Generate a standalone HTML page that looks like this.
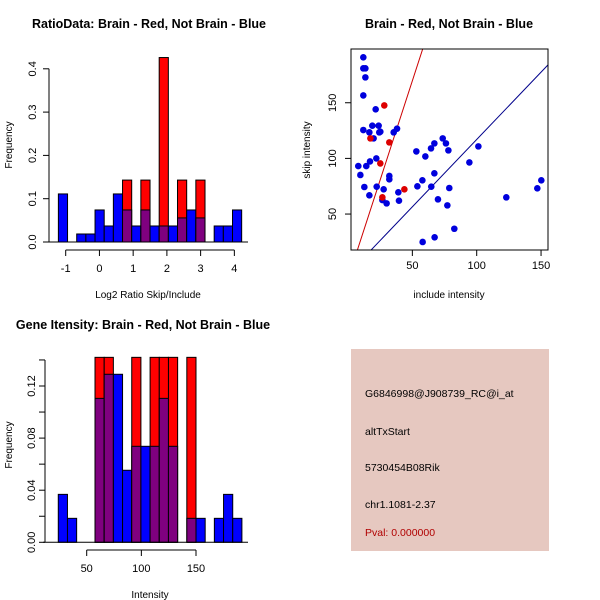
<!DOCTYPE html>
<html><head><meta charset="utf-8"><style>
body{margin:0;background:#fff}
svg{display:block;font-family:"Liberation Sans",sans-serif}
</style></head><body>
<svg id="c" width="600" height="600" viewBox="0 0 600 600"></svg>
<script>
// ---- Panel 1 data: log2 ratio histogram ----
const ratioBinStart = -1.217;
const ratioBinWidth = 0.2717;
const ratioBlue = [0.111,0,0.0185,0.0185,0.074,0.037,0.111,0.074,0.037,0.074,0.037,0.037,0.037,0.0556,0.074,0.0556,0,0.037,0.037,0.074];
const ratioRed  = [0,0,0,0,0,0,0,0.143,0,0.143,0,0.426,0,0.143,0,0.143,0,0,0,0];
const ratioXTicks = [-1,0,1,2,3,4];
const ratioYTicks = [0,0.1,0.2,0.3,0.4];
const ratioYLabels = ["0.0","0.1","0.2","0.3","0.4"];
// ---- Panel 2 data: scatter ----
const blueX = [11.9,11.9,13.5,13.5,11.9,11.9,16.6,18.9,21.5,23.8,24.3,25.1,19.9,17.1,14.2,22.0,8.0,9.6,12.7,22.3,16.6,27.7,26.7,30.0,32.1,32.1,35.5,38.1,39.1,39.6,53.1,53.9,57.8,60.1,64.5,67.1,64.7,67.1,69.9,73.6,76.1,78.0,78.7,77.2,94.3,101.3,82.6,58.0,67.3,123.0,147.1,150.2];
const blueY = [190.8,180.9,180.9,172.8,156.6,125.5,123.4,129.4,144.1,129.4,123.4,124.0,118.0,97.3,93.1,100.0,93.1,85.1,74.3,74.6,66.8,72.2,62.6,59.6,84.2,81.2,123.4,126.7,69.5,62.0,106.3,74.9,80.3,101.8,109.0,113.5,74.6,86.6,63.2,118.0,113.5,107.2,73.4,57.8,96.4,110.8,36.8,24.9,29.1,65.0,73.1,80.3];
const redX = [28.2,17.4,32.1,25.1,43.8,26.7];
const redY = [147.6,118.0,114.4,95.5,72.2,65.0];
const redLine = [-8.3,3.56];   // intercept, slope
const blueLine = [-4.0,1.21];
const scatXTicks = [50,100,150];
const scatYTicks = [50,100,150];
// ---- Panel 3 data: intensity histogram ----
const intBinStart = 24;
const intBinWidth = 8.4;
const intBlue = [0.0368,0.0184,0,0,0.1105,0.129,0.129,0.0553,0.0737,0.0737,0.0737,0.1105,0.0737,0,0.0184,0.0184,0,0.0184,0.0368,0.0184];
const intRed  = [0,0,0,0,0.142,0.142,0,0,0.142,0,0.142,0.142,0.142,0,0.142,0,0,0,0,0];
const intXTicks = [50,100,150];
const intYTicks = [0,0.02,0.04,0.06,0.08,0.10,0.12,0.14];
const intYLabels = ["0.00","","0.04","","0.08","","0.12",""];

const svg = document.getElementById('c');
const NS = 'http://www.w3.org/2000/svg';
function mk(tag, attrs, parent){
  const e = document.createElementNS(NS, tag);
  for (const k in attrs) e.setAttribute(k, attrs[k]);
  (parent||svg).appendChild(e);
  return e;
}
function txt(s, x, y, opts, parent){
  const e = mk('text', Object.assign({x:x,y:y,'font-size':11,'text-anchor':'middle',fill:'#000'}, opts||{}), parent);
  e.textContent = s;
  return e;
}
function rtxt(s, bx, cy, parent){
  return txt(s, bx, cy, {transform:`rotate(-90 ${bx} ${cy})`}, parent);
}

function histogram(name, start, width, blue, red, xs, ys, xTicks, yTicks, yLabels, xAxisY, yAxisX, yMin, yMax, baseL, baseR, labelX){
  const g = mk('g', {});
  
  
  for (let i=0;i<blue.length;i++){
    const a = start + i*width, b = a + width;
    const xa = xs(a), xb = xs(b);
    const bh = blue[i], rh = red[i];
    if (rh > 0){
      const r = mk('rect', {x:xa, y:ys(rh), width:xb-xa, height:ys(0)-ys(rh), fill:'#ff0000', stroke:'#000', 'stroke-width':1}, g);
      
      
    }
    if (bh > 0){
      const both = rh > 0;
      const r = mk('rect', {x:xa, y:ys(bh), width:xb-xa, height:ys(0)-ys(bh), fill: both ? '#7f007f' : '#0000ff', stroke:'#000', 'stroke-width':1}, g);
      
      
    }
  }
  mk('line', {x1:baseL, x2:baseR, y1:ys(0), y2:ys(0), stroke:'#000'}, g);
  const ya = mk('g', {}, g);
  
  
  mk('line', {x1:yAxisX, x2:yAxisX, y1:ys(yMin), y2:ys(yMax), stroke:'#000'}, ya);
  yTicks.forEach((t,i)=>{
    mk('line', {x1:yAxisX-6, x2:yAxisX, y1:ys(t), y2:ys(t), stroke:'#000'}, ya);
    if (yLabels[i]) rtxt(yLabels[i], labelX, ys(t), ya);
  });
  const xa = mk('g', {}, g);
  
  
  mk('line', {x1:xs(xTicks[0]), x2:xs(xTicks[xTicks.length-1]), y1:xAxisY, y2:xAxisY, stroke:'#000'}, xa);
  xTicks.forEach(t=>{
    mk('line', {x1:xs(t), x2:xs(t), y1:xAxisY, y2:xAxisY+6, stroke:'#000'}, xa);
    txt(String(t), xs(t), xAxisY+22, {}, xa);
  });
  return g;
}

// Panel 1
(function(){
  const xs = v => 65.7 + (v+1)*33.73;
  const ys = v => 242 - v*433;
  histogram('ratio-histogram', ratioBinStart, ratioBinWidth, ratioBlue, ratioRed, xs, ys, ratioXTicks, ratioYTicks, ratioYLabels, 250, 49, 0, 0.4, 43, 248, 36);
  const t = txt('RatioData: Brain - Red, Not Brain - Blue', 149, 28, {'font-weight':'bold','font-size':12.5});
   
  const xl = txt('Log2 Ratio Skip/Include', 148, 298, {'font-size':10});
   
  const yl = txt('Frequency', 12, 145, {'font-size':10, transform:'rotate(-90 12 145)'});
   
})();

// Panel 2
(function(){
  const xs = v => 348 + v*1.287;
  const ys = v => 269.7 - v*1.113;
  const L=351, R=548, T=49, B=250;
  const g = mk('g', {});
   
  const defs = mk('defs', {}, g);
  const cp = mk('clipPath', {id:'sc'}, defs);
  mk('rect', {x:L, y:T, width:R-L, height:B-T}, cp);
  const lg = mk('g', {'clip-path':'url(#sc)'}, g);
  [[redLine,'#cc0000','red-fit-line'],[blueLine,'#00008b','blue-fit-line']].forEach(([p,c,n])=>{
    const x1=-20, x2=200;
    const l = mk('line', {x1:xs(x1), y1:ys(p[0]+p[1]*x1), x2:xs(x2), y2:ys(p[0]+p[1]*x2), stroke:c, 'stroke-width':1}, lg);
     
  });
  blueX.forEach((x,i)=>{
    const c = mk('circle', {cx:xs(x), cy:ys(blueY[i]), r:3.3, fill:'#0000dd'}, lg);
     
  });
  redX.forEach((x,i)=>{
    const c = mk('circle', {cx:xs(x), cy:ys(redY[i]), r:3.3, fill:'#dd0000'}, lg);
     
  });
  mk('rect', {x:L, y:T, width:R-L, height:B-T, fill:'none', stroke:'#000'}, g);
  scatXTicks.forEach(t=>{
    mk('line', {x1:xs(t), x2:xs(t), y1:B, y2:B+6, stroke:'#000'}, g);
    txt(String(t), xs(t), B+19, {}, g);
  });
  scatYTicks.forEach(t=>{
    mk('line', {x1:L-6, x2:L, y1:ys(t), y2:ys(t), stroke:'#000'}, g);
    rtxt(String(t), L-15, ys(t), g);
  });
  const t = txt('Brain - Red, Not Brain - Blue', 449, 28, {'font-weight':'bold','font-size':12.5});
   
  const xl = txt('include intensity', 449, 298, {'font-size':10});
   
  const yl = txt('skip intensity', 310, 150, {'font-size':10, transform:'rotate(-90 310 150)'});
   
})();

// Panel 3
(function(){
  const xs = v => 86.7 + (v-50)*1.093;
  const ys = v => 542.3 - v*1302.5;
  histogram('intensity-histogram', intBinStart, intBinWidth, intBlue, intRed, xs, ys, intXTicks, intYTicks, intYLabels, 550, 45, 0, 0.14, 43, 248, 35);
  const t = txt('Gene Itensity: Brain - Red, Not Brain - Blue', 143, 329, {'font-weight':'bold','font-size':12.5});
   
  const xl = txt('Intensity', 150, 598, {'font-size':10});
   
  const yl = txt('Frequency', 12, 445, {'font-size':10, transform:'rotate(-90 12 445)'});
   
})();

// Panel 4 info box
(function(){
  const g = mk('g', {});
   
  mk('rect', {x:351, y:349, width:198, height:202, fill:'#e6c8c0'}, g);
  const lines = [['G6846998@J908739_RC@i_at',397,'#000','probe-id'],['altTxStart',435,'#000','event-type'],['5730454B08Rik',471,'#000','gene-name'],['chr1.1081-2.37',508,'#000','location'],['Pval: 0.000000',536,'#b00000','p-value']];
  lines.forEach(([s,y,c,n])=>{
    const e = txt(s, 365, y, {'text-anchor':'start', fill:c, 'font-size':10.5}, g);
     
  });
})();
</script>
</body></html>
